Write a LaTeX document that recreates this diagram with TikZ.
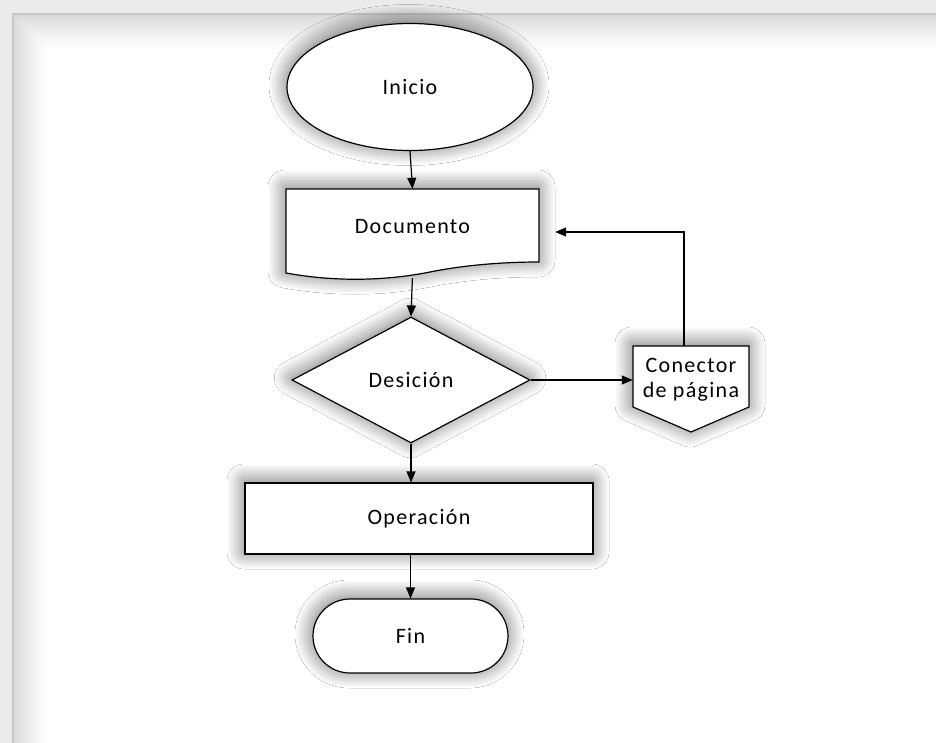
\documentclass[tikz,border=0pt]{standalone}
\usepackage{fontspec}
\setmainfont{Carlito}[LetterSpace=6]
\usetikzlibrary{shapes.geometric,arrows.meta,shadows.blur,calc}

\tikzset{
  shp/.style={draw=black, line width=1.2pt, fill=white,
    blur shadow={shadow xshift=-1pt, shadow yshift=2pt,
      shadow blur radius=17pt, shadow blur steps=24, shadow opacity=58}},
  lbl/.style={font=\fontsize{22}{25}\selectfont, text=black},
  link/.style={draw=black, line width=1.2pt, -{Triangle[length=11pt,width=9pt]}},
}

\begin{document}
\begin{tikzpicture}[x=1pt, y=-1pt]
  \useasboundingbox (0,0) rectangle (936,743);

  % page frame: grey margin, edge line and a soft inner fade
  \fill[white] (0,0) rectangle (936,743);
  \fill[black!8] (0,0) rectangle (936,14);
  \fill[black!8] (0,0) rectangle (13,743);
  \foreach \i in {0,...,36} {
    \pgfmathsetmacro{\tone}{15*(1-\i/37)^1.3}
    \draw[black!\tone, line width=1.1pt] (13.5+\i,743) |- (936,14.5+\i);
  }
  \draw[black!22, line width=1.2pt] (13,743) |- (936,14);

  % start
  \node[shp, ellipse, minimum width=246pt, minimum height=127pt, inner sep=0pt, lbl]
    (ini) at (410,87) {Inicio};

  % document symbol with wavy bottom
  \path[shp] (286,189) -- (539,189) -- (539,262)
    .. controls (510,262) and (470,264) .. (430,272)
    .. controls (380,282) and (330,281) .. (286,273) -- cycle;
  \node[lbl, minimum width=253pt, minimum height=86pt, inner sep=0pt, text depth=12pt]
    (doc) at (412.5,232) {Documento};

  % decision
  \node[shp, diamond, aspect=1.89, minimum width=238pt, minimum height=126pt,
    inner sep=0pt, lbl] (dec) at (411,380) {Desición};

  % off-page connector
  \path[shp] (633,346) -- (749,346) -- (749,407) -- (691,432) -- (633,407) -- cycle;
  \node[lbl, align=center, minimum width=116pt, minimum height=68pt, inner sep=0pt]
    (conn) at (691,380) {Conector\\de página};

  % process
  \node[shp, rectangle, minimum width=348pt, minimum height=71pt, inner sep=0pt, lbl]
    (op) at (419,518.5) {Operación};

  % end
  \node[shp, rectangle, rounded corners=37pt, minimum width=195pt, minimum height=74pt,
    inner sep=0pt, lbl] (fin) at (410.5,636) {Fin};

  % flow lines
  \draw[link] (ini.south) -- (doc.north);
  \draw[link, shorten <=3pt] (doc.south) -- (dec.north);
  \draw[link] (dec.east) -- (dec.east -| conn.west);
  \draw[link] ([xshift=-7pt]conn.north) |- ([xshift=16pt]doc.east);
  \draw[link] (dec.south) -- (dec.south |- op.north);
  \draw[link] (fin.north |- op.south) -- (fin.north);
\end{tikzpicture}
\end{document}
